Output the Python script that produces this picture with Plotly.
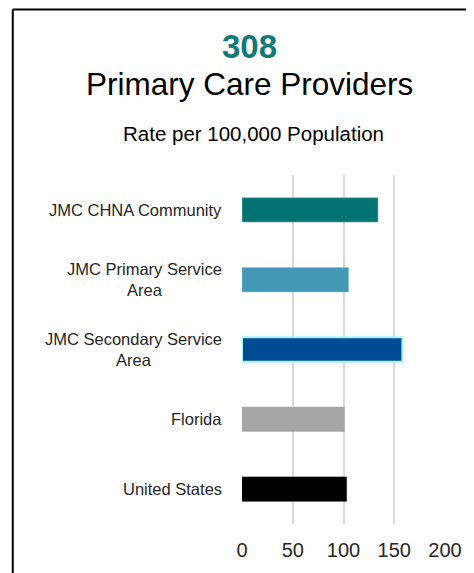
import plotly.graph_objects as go

# data
categories = ["JMC CHNA Community", "JMC Primary Service<br>Area",
              "JMC Secondary Service<br>Area", "Florida", "United States"]
rates = [134, 105, 158, 101, 103]
bar_colors = ["#007372", "#4398b5", "#004b93", "#a6a6a6", "#000000"]
x_ticks = [0, 50, 100, 150, 200]

# the page body adds an 8px margin, so the figure is drawn 8px in
OFF = 8
W, H = 474 - OFF, 573 - OFF
L, R, T, B = 234, 27, 167, 49
FONT = "Liberation Sans, Arial, sans-serif"


def px_x(sx):
    # screen pixel -> paper x
    return (sx - OFF - L) / (W - L - R)


def px_y(sy):
    # screen pixel -> paper y
    return (H - B - (sy - OFF)) / (H - T - B)


fig = go.Figure(go.Bar(
    y=categories,
    x=rates,
    orientation="h",
    width=0.35,
    marker=dict(color=bar_colors,
                line=dict(color=["#7fb9b8", "#8cc3d4", "#aaf5f8", "#a6a6a6", "#000000"],
                          width=[0.6, 0.6, 2, 0.5, 0.5])),
    hoverinfo="skip",
))

# category labels, centred multi-line like the original
for cat in categories:
    fig.add_annotation(x=px_x(224), y=cat, xref="paper", yref="y",
                       text=cat, showarrow=False, xanchor="right", align="center",
                       font=dict(family=FONT, size=16.5, color="#262626"))

# titles
fig.add_annotation(x=px_x(250), y=px_y(46), xref="paper", yref="paper", text="<b>308</b>",
                   showarrow=False, xanchor="center", yanchor="middle",
                   font=dict(family=FONT, size=33, color="#0f7b79"))
fig.add_annotation(x=px_x(250), y=px_y(84), xref="paper", yref="paper",
                   text="Primary Care Providers", showarrow=False,
                   xanchor="center", yanchor="middle",
                   font=dict(family=FONT, size=31.5, color="#000000"))
fig.add_annotation(x=px_x(254), y=px_y(133), xref="paper", yref="paper",
                   text="Rate per 100,000 Population", showarrow=False,
                   xanchor="center", yanchor="middle",
                   font=dict(family=FONT, size=20.5, color="#000000"))

# outer frame: top and left edges only
fig.add_shape(type="line", xref="paper", yref="paper", x0=px_x(10.5), x1=px_x(480),
              y0=px_y(9.5), y1=px_y(9.5), line=dict(color="black", width=2))
fig.add_shape(type="line", xref="paper", yref="paper", x0=px_x(10.5), x1=px_x(10.5),
              y0=px_y(9.5), y1=px_y(580), line=dict(color="black", width=2))

fig.update_xaxes(range=[0, 200], tickvals=x_ticks, showgrid=True, gridcolor="#d9d9d9",
                 gridwidth=2, zeroline=False, showline=False, ticklabelstandoff=12,
                 tickfont=dict(family=FONT, size=20, color="#262626"), fixedrange=True)
fig.update_yaxes(autorange="reversed", showticklabels=False, showgrid=False,
                 zeroline=False, showline=False, fixedrange=True)

fig.update_layout(
    width=W, height=H,
    margin=dict(l=L, r=R, t=T, b=B),
    paper_bgcolor="white", plot_bgcolor="white",
    showlegend=False,
)

fig.write_html("out.html")
